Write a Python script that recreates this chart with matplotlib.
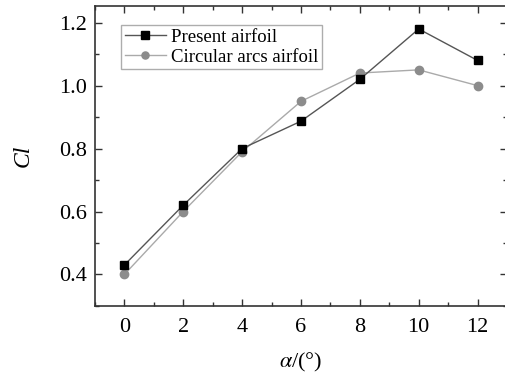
import matplotlib
matplotlib.use("Agg")
import matplotlib.pyplot as plt
from matplotlib.ticker import MultipleLocator

plt.rcParams['font.family'] = ['Liberation Serif', 'DejaVu Serif']
plt.rcParams['mathtext.fontset'] = 'stix'

alpha = [0, 2, 4, 6, 8, 10, 12]
present = [0.43, 0.62, 0.80, 0.887, 1.02, 1.18, 1.08]
circular = [0.40, 0.60, 0.79, 0.95, 1.04, 1.05, 1.00]

fig = plt.figure(figsize=(5.05, 3.74), dpi=100)
ax = fig.add_axes([0.188, 0.182, 1.004 - 0.188, 0.984 - 0.182])

ax.plot(alpha, present, color='#555555', lw=1.0, marker='s', ms=6,
        mfc='black', mec='black', label='Present airfoil', zorder=3)
ax.plot(alpha, circular, color='#aaaaaa', lw=1.0, marker='o', ms=6,
        mfc='#8c8c8c', mec='#8c8c8c', label='Circular arcs airfoil', zorder=2)

ax.set_xlim(-1, 13)
ax.set_ylim(0.3, 1.253)
ax.xaxis.set_major_locator(MultipleLocator(2))
ax.xaxis.set_minor_locator(MultipleLocator(1))
ax.yaxis.set_minor_locator(MultipleLocator(0.1))
ax.set_yticks([0.4, 0.6, 0.8, 1.0, 1.2])
ax.set_yticklabels(['0.4', '0.6', '0.8', '1.0', '1.2'])
ax.tick_params(which='both', direction='in', top=True, right=True,
               labelsize=16, color='#333333')
ax.tick_params(which='major', length=5, width=1)
ax.tick_params(which='minor', length=3, width=1)
ax.tick_params(axis='x', pad=9)
ax.tick_params(axis='y', pad=6)
for s in ax.spines.values():
    s.set_color('#333333')
    s.set_linewidth(1.2)

ax.set_xlabel(r'$\alpha$/(°)', fontsize=16, labelpad=10)
ax.set_ylabel('Cl', fontsize=17, style='italic', labelpad=18)

leg = ax.legend(loc='upper left', bbox_to_anchor=(0.063, 0.937), fontsize=13.5,
                frameon=True, fancybox=False, edgecolor='#999999',
                handlelength=2.2, handletextpad=0.25, borderpad=0.2,
                labelspacing=0.15, borderaxespad=0.0, markerscale=0.85)
leg.get_frame().set_linewidth(1.0)

fig.savefig('out.png', dpi=100)
